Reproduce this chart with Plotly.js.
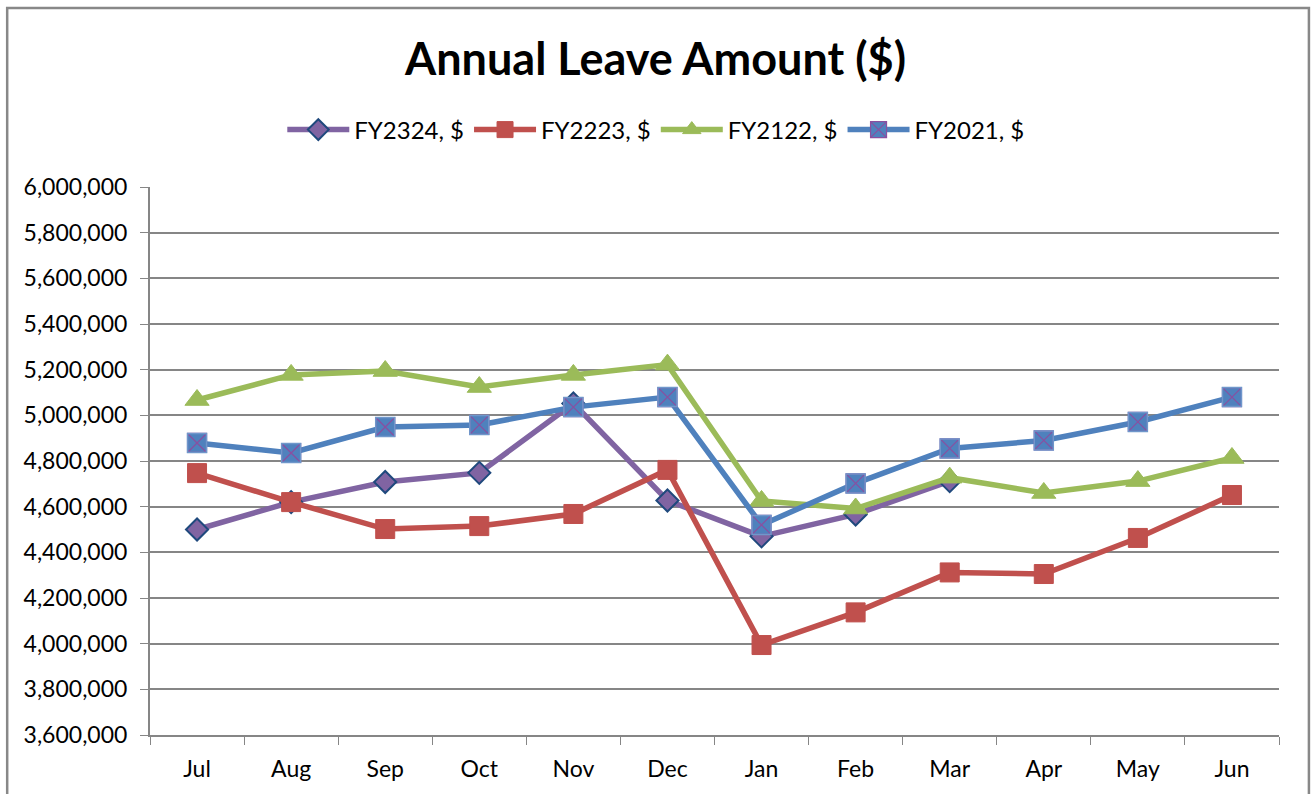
<!DOCTYPE html>
<html>
<head>
<meta charset="utf-8">
<script src="https://cdn.plot.ly/plotly-3.0.1.min.js"></script>
<style>html,body{margin:0;padding:0;background:#fff;}#chart{width:1311px;height:794px;}</style>
</head>
<body>
<div id="chart"></div>
<script>
const months = ["Jul","Aug","Sep","Oct","Nov","Dec","Jan","Feb","Mar","Apr","May","Jun"];
const fy2324 = [4500000, 4620000, 4708000, 4748000, 5052000, 4627000, 4470000, 4566000, 4712000, null, null, null];
const fy2223 = [4747000, 4620000, 4502000, 4515000, 4568000, 4761000, 3994000, 4137000, 4312000, 4305000, 4463000, 4651000];
const fy2122 = [5067000, 5177000, 5194000, 5124000, 5177000, 5222000, 4625000, 4592000, 4727000, 4660000, 4712000, 4813000];
const fy2021 = [4879000, 4835000, 4949000, 4958000, 5036000, 5080000, 4520000, 4702000, 4855000, 4890000, 4971000, 5080000];
const seriesNames = ["FY2324, $", "FY2223, $", "FY2122, $", "FY2021, $"];

const traces = [
  {x: months, y: fy2324, name: seriesNames[0], mode: "lines+markers",
   line: {color: "#8064A2", width: 5.5},
   marker: {symbol: "diamond", size: 17, color: "#8064A2", line: {color: "#1F497D", width: 2}}},
  {x: months, y: fy2223, name: seriesNames[1], mode: "lines+markers",
   line: {color: "#C0504D", width: 5.5},
   marker: {symbol: "square", size: 19, color: "#C0504D", line: {color: "#C0504D", width: 1}}},
  {x: months, y: fy2122, name: seriesNames[2], mode: "lines+markers",
   line: {color: "#9BBB59", width: 5.5},
   marker: {symbol: "triangle-up", size: 21, color: "#9BBB59", line: {color: "#9BBB59", width: 1}}},
  {x: months, y: fy2021, name: seriesNames[3], mode: "lines+markers", legendgroup: "fy2021",
   line: {color: "#4F81BD", width: 5.5},
   marker: {symbol: "square-x", size: 19, color: "#4F81BD", line: {color: "#8A4FA0", width: 1.2}}},
  {x: months, y: fy2021, name: seriesNames[3], mode: "markers", legendgroup: "fy2021", showlegend: false,
   marker: {symbol: "square-open", size: 19, color: "#6F97CB", line: {width: 1.5}}}
];

const layout = {
  width: 1311, height: 794,
  margin: {l: 150, r: 32, t: 187, b: 59},
  paper_bgcolor: "#fff", plot_bgcolor: "#fff",
  font: {family: "Lato, 'Open Sans', sans-serif", size: 23, color: "#000"},
  title: {text: "<b>Annual Leave Amount ($)</b>", x: 0.5, xanchor: "center", y: 0.925, yanchor: "middle",
          font: {family: "Lato, 'Open Sans', sans-serif", size: 45, color: "#000"}},
  showlegend: true,
  legend: {orientation: "h", x: 0.448, xanchor: "center", y: 1.104, yanchor: "middle",
           font: {size: 24, color: "#000"}, itemwidth: 62, traceorder: "normal"},
  xaxis: {type: "category", tickson: "boundaries", ticks: "outside", ticklen: 8, tickcolor: "#868686",
          showline: true, linecolor: "#868686", linewidth: 2, showgrid: false, zeroline: false,
          tickfont: {size: 23}, ticklabelstandoff: 12, range: [-0.5, 11.5]},
  yaxis: {range: [3600000, 6000000], dtick: 200000, tickformat: ",d", ticks: "outside", ticklen: 8,
          tickcolor: "#868686", showline: true, linecolor: "#868686", linewidth: 2,
          showgrid: true, gridcolor: "#868686", gridwidth: 2, zeroline: false, tickfont: {size: 23},
          ticklabelstandoff: 8},
  shapes: [{type: "rect", xref: "paper", yref: "paper", x0: -0.1265, x1: 1.0265, y0: -0.2, y1: 1.3265,
            line: {color: "#888888", width: 2.5}, fillcolor: "rgba(0,0,0,0)", layer: "below"}]
};

Plotly.newPlot("chart", traces, layout, {displayModeBar: false, staticPlot: true});
</script>
</body>
</html>
